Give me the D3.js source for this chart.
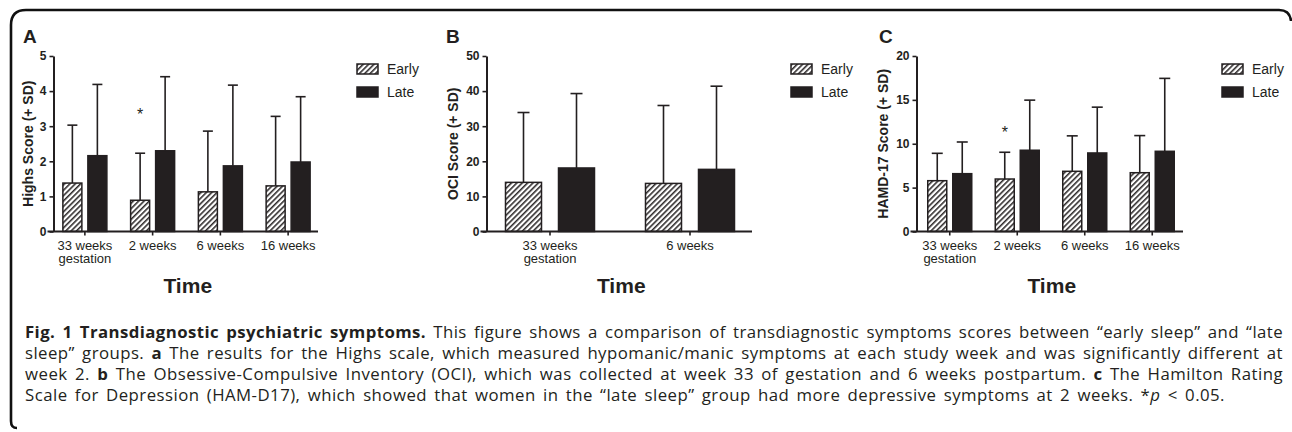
<!DOCTYPE html>
<html>
<head>
<meta charset="utf-8">
<script src="https://cdn.jsdelivr.net/npm/d3@7"></script>
<style>
  body { margin: 0; background: #fff; }
  text { fill: #231f20; }
</style>
</head>
<body>
<svg id="fig" width="1292" height="432"></svg>
<script>
// data
var series = ["Early", "Late"];
var timesFour = ["33 weeks|gestation", "2 weeks", "6 weeks", "16 weeks"];
var timesTwo = ["33 weeks|gestation", "6 weeks"];

var highsEarly = [1.38, 0.89, 1.13, 1.30];
var highsEarlySD = [1.65, 1.34, 1.73, 1.98];
var highsLate = [2.16, 2.30, 1.87, 1.98];
var highsLateSD = [2.03, 2.11, 2.30, 1.86];
var highsTicks = [0, 1, 2, 3, 4, 5];
var highsStar = [null, 3.45, null, null];

var ociEarly = [14.0, 13.7];
var ociEarlySD = [19.9, 22.2];
var ociLate = [18.1, 17.7];
var ociLateSD = [21.2, 23.7];
var ociTicks = [0, 10, 20, 30, 40, 50];
var ociStar = [null, null];

var hamdEarly = [5.79, 5.98, 6.86, 6.70];
var hamdEarlySD = [3.12, 3.05, 4.04, 4.23];
var hamdLate = [6.59, 9.26, 8.95, 9.14];
var hamdLateSD = [3.61, 5.71, 5.22, 8.31];
var hamdTicks = [0, 5, 10, 15, 20];
var hamdStar = [null, 11.8, null, null];

var captionLines = [
  [["Fig. 1 Transdiagnostic psychiatric symptoms.", "b"], [" This figure shows a comparison of transdiagnostic symptoms scores between \u201cearly sleep\u201d and \u201clate", ""]],
  [["sleep\u201d groups. ", ""], ["a", "b"], [" The results for the Highs scale, which measured hypomanic/manic symptoms at each study week and was significantly different at", ""]],
  [["week 2. ", ""], ["b", "b"], [" The Obsessive-Compulsive Inventory (OCI), which was collected at week 33 of gestation and 6 weeks postpartum. ", ""], ["c", "b"], [" The Hamilton Rating", ""]],
  [["Scale for Depression (HAM-D17), which showed that women in the \u201clate sleep\u201d group had more depressive symptoms at 2 weeks. *", ""], ["p", "i"], [" < 0.05.", ""]]
];

var ink = "#231f20";
var svg = d3.select("#fig");

// hatch pattern for the Early bars
var defs = svg.append("defs");
defs.append("pattern")
  .attr("id", "hatch")
  .attr("patternUnits", "userSpaceOnUse")
  .attr("width", 3.8)
  .attr("height", 3.8)
  .attr("patternTransform", "rotate(45)")
  .call(function (p) {
    p.append("rect").attr("width", 3.8).attr("height", 3.8).attr("fill", "#fff");
    p.append("line").attr("x1", 0.8).attr("y1", 0).attr("x2", 0.8).attr("y2", 3.8)
      .attr("stroke", ink).attr("stroke-width", 1.5);
  });

// frame
svg.append("path")
  .attr("d", "M17,428 Q11,428 11,421 L11,25 Q11,10 26,10 L1279,10 Q1290,10 1291,21")
  .attr("fill", "none")
  .attr("stroke", "#111")
  .attr("stroke-width", 2.6);

var panels = [
  { letter: "A", letterX: 23, titleX: 28, axisX: 53.5, axisEnd: 318, band: [51, 322], barW: 19, gap: 6, cap: 10,
    times: timesFour, early: highsEarly, earlySD: highsEarlySD, late: highsLate, lateSD: highsLateSD,
    ticks: highsTicks, star: highsStar, title: "Highs Score (+ SD)" },
  { letter: "B", letterX: 446, titleX: 453, axisX: 486.5, axisEnd: 752, band: [480, 760], barW: 36, gap: 17, cap: 12,
    times: timesTwo, early: ociEarly, earlySD: ociEarlySD, late: ociLate, lateSD: ociLateSD,
    ticks: ociTicks, star: ociStar, title: "OCI Score (+ SD)" },
  { letter: "C", letterX: 879, titleX: 883, axisX: 916.5, axisEnd: 1183, band: [916, 1186], barW: 19, gap: 6, cap: 11,
    times: timesFour, early: hamdEarly, earlySD: hamdEarlySD, late: hamdLate, lateSD: hamdLateSD,
    ticks: hamdTicks, star: hamdStar, title: "HAMD-17 Score (+ SD)" }
];

var yTop = 56, yBottom = 231.5;
var arial = "'Liberation Sans', Arial, sans-serif";

panels.forEach(function (p) {
  var g = svg.append("g");

  var x = d3.scaleBand().domain(p.times).range(p.band);
  var pairW = 2 * p.barW + p.gap;
  var inner = d3.scaleBand().domain(series).range([-pairW / 2, pairW / 2])
    .paddingInner(p.gap / (p.barW + p.gap));
  var y = d3.scaleLinear().domain([0, d3.max(p.ticks)]).range([yBottom, yTop]);

  var rows = [];
  p.times.forEach(function (t, i) {
    rows.push({ time: t, s: "Early", value: p.early[i], sd: p.earlySD[i], star: p.star[i] });
    rows.push({ time: t, s: "Late", value: p.late[i], sd: p.lateSD[i], star: null });
  });
  var cx = function (d) { return x(d.time) + x.bandwidth() / 2 + inner(d.s) + inner.bandwidth() / 2; };

  // error bars (upper only)
  g.selectAll(".err").data(rows).enter().append("line")
    .attr("x1", cx).attr("x2", cx)
    .attr("y1", function (d) { return y(d.value); })
    .attr("y2", function (d) { return y(d.value + d.sd); })
    .attr("stroke", ink).attr("stroke-width", 1.6);
  g.selectAll(".cap").data(rows).enter().append("line")
    .attr("x1", function (d) { return cx(d) - p.cap / 2; })
    .attr("x2", function (d) { return cx(d) + p.cap / 2; })
    .attr("y1", function (d) { return y(d.value + d.sd); })
    .attr("y2", function (d) { return y(d.value + d.sd); })
    .attr("stroke", ink).attr("stroke-width", 1.6);

  // bars
  g.selectAll(".bar").data(rows).enter().append("rect")
    .attr("x", function (d) { return x(d.time) + x.bandwidth() / 2 + inner(d.s); })
    .attr("width", inner.bandwidth())
    .attr("y", function (d) { return y(d.value); })
    .attr("height", function (d) { return y(0) - y(d.value); })
    .attr("fill", function (d) { return d.s === "Early" ? "url(#hatch)" : ink; })
    .attr("stroke", ink)
    .attr("stroke-width", 1.5);

  // significance stars
  g.selectAll(".star").data(rows.filter(function (d) { return d.star != null; })).enter().append("text")
    .attr("x", cx)
    .attr("y", function (d) { return y(d.star) + 10; })
    .attr("text-anchor", "middle")
    .style("font-family", arial).style("font-size", "16px")
    .text("*");

  // y axis
  var yAxis = g.append("g")
    .attr("transform", "translate(" + p.axisX + ",0)")
    .call(d3.axisLeft(y).tickValues(p.ticks).tickFormat(d3.format("d"))
      .tickSize(4).tickSizeOuter(0).tickPadding(3));
  yAxis.select(".domain").attr("stroke", ink).attr("stroke-width", 2);
  yAxis.selectAll(".tick line").attr("stroke", ink).attr("stroke-width", 1.6);
  yAxis.selectAll(".tick text")
    .style("font-family", arial).style("font-size", "12px").style("font-weight", "bold")
    .attr("fill", ink);

  // x axis
  var xAxis = g.append("g")
    .attr("transform", "translate(0," + yBottom + ")")
    .call(d3.axisBottom(x).tickSize(4).tickSizeOuter(0).tickFormat(""));
  xAxis.select(".domain").remove();
  xAxis.selectAll(".tick line").attr("stroke", ink).attr("stroke-width", 1.6);
  xAxis.append("line")
    .attr("x1", p.axisX - 6).attr("x2", p.axisEnd)
    .attr("stroke", ink).attr("stroke-width", 2);
  xAxis.selectAll(".tick").append("text")
    .attr("text-anchor", "middle")
    .style("font-family", arial).style("font-size", "13px")
    .attr("fill", ink)
    .selectAll("tspan")
    .data(function (d) { return d.split("|"); })
    .enter().append("tspan")
    .attr("x", 0)
    .attr("y", function (d, i) { return 18.5 + i * 13; })
    .text(function (d) { return d; });

  // titles
  g.append("text")
    .attr("x", p.letterX).attr("y", 43)
    .style("font-family", arial).style("font-size", "19px").style("font-weight", "bold")
    .text(p.letter);
  g.append("text")
    .attr("transform", "translate(" + p.titleX + "," + (yTop + yBottom) / 2 + ") rotate(-90)")
    .attr("text-anchor", "middle")
    .attr("dy", "0.35em")
    .style("font-family", arial).style("font-size", "14px").style("font-weight", "bold")
    .text(p.title);
  g.append("text")
    .attr("x", (p.axisX + p.axisEnd) / 2 + 2).attr("y", 293)
    .attr("text-anchor", "middle")
    .style("font-family", arial).style("font-size", "21px").style("font-weight", "bold")
    .text("Time");

  // legend
  var leg = g.selectAll(".leg").data(series).enter().append("g")
    .attr("transform", function (d, i) { return "translate(" + (p.axisEnd + 39) + "," + (64 + i * 23) + ")"; });
  leg.append("rect")
    .attr("width", 21).attr("height", 10)
    .attr("fill", function (d) { return d === "Early" ? "url(#hatch)" : ink; })
    .attr("stroke", ink).attr("stroke-width", 1.5);
  leg.append("text")
    .attr("x", 30).attr("y", 10)
    .style("font-family", arial).style("font-size", "14px")
    .text(function (d) { return d; });
});

// caption, justified like the journal layout
var capTargets = [1258, 1258, 1258, 1200];
captionLines.forEach(function (segs, i) {
  var t = svg.append("text")
    .attr("x", 25)
    .attr("y", 338 + i * 21)
    .style("font-family", "'Open Sans', 'Noto Sans', sans-serif")
    .style("font-size", "16.8px")
    .attr("fill", ink);
  segs.forEach(function (s) {
    t.append("tspan")
      .style("font-weight", s[1] === "b" ? "bold" : null)
      .style("font-style", s[1] === "i" ? "italic" : null)
      .text(s[0]);
  });
  var str = segs.map(function (s) { return s[0]; }).join("");
  var spaces = str.split(" ").length - 1;
  var extra = capTargets[i] - t.node().getComputedTextLength();
  // keep word gaps modest, put the rest into letter spacing
  var ls = Math.max(0, (extra - 2.5 * spaces) / str.length);
  t.style("letter-spacing", ls + "px");
  var w = t.node().getComputedTextLength();
  t.style("word-spacing", ((capTargets[i] - w) / spaces) + "px");
});
</script>
</body>
</html>
